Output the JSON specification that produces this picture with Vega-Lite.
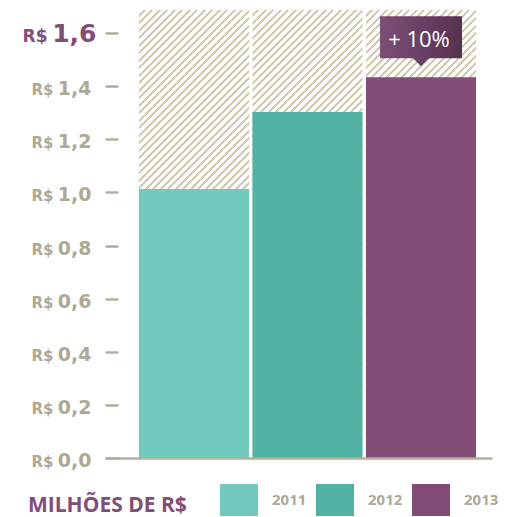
{
 "$schema": "https://vega.github.io/schema/vega-lite/v6.json",
 "width": 387,
 "height": 448,
 "autosize": {"type": "none"},
 "padding": {"left": 105, "top": 10, "right": 14, "bottom": 59},
 "background": "#ffffff",
 "data": {"values": [
  {"year": "2011", "value": 1.013},
  {"year": "2012", "value": 1.303},
  {"year": "2013", "value": 1.434, "note": "+ 10%"}
 ]},
 "encoding": {
  "x": {"field": "year", "type": "nominal",
   "scale": {"paddingInner": 0.03, "paddingOuter": 0.22, "align": 0.68},
   "axis": {"title": null, "labels": false, "ticks": false, "domain": true, "domainColor": "#b5b09d", "domainWidth": 2.5, "grid": false}}
 },
 "layer": [
  {
   "mark": {"type": "rect", "strokeWidth": 0, "fill": {"gradient": "linear", "x1": 0, "y1": 0, "x2": 0.3101, "y2": 1.2628, "stops": [
{"offset":0,"color":"#ffffff"},{"offset":0.0075,"color":"#ffffff"},{"offset":0.0075,"color":"#d2cbb1"},{"offset":0.0125,"color":"#d2cbb1"},
{"offset":0.0125,"color":"#ffffff"},{"offset":0.02,"color":"#ffffff"},{"offset":0.02,"color":"#d2cbb1"},{"offset":0.025,"color":"#d2cbb1"},
{"offset":0.025,"color":"#ffffff"},{"offset":0.0325,"color":"#ffffff"},{"offset":0.0325,"color":"#d2cbb1"},{"offset":0.0375,"color":"#d2cbb1"},
{"offset":0.0375,"color":"#ffffff"},{"offset":0.045,"color":"#ffffff"},{"offset":0.045,"color":"#d2cbb1"},{"offset":0.05,"color":"#d2cbb1"},
{"offset":0.05,"color":"#ffffff"},{"offset":0.0575,"color":"#ffffff"},{"offset":0.0575,"color":"#d2cbb1"},{"offset":0.0625,"color":"#d2cbb1"},
{"offset":0.0625,"color":"#ffffff"},{"offset":0.07,"color":"#ffffff"},{"offset":0.07,"color":"#d2cbb1"},{"offset":0.075,"color":"#d2cbb1"},
{"offset":0.075,"color":"#ffffff"},{"offset":0.0825,"color":"#ffffff"},{"offset":0.0825,"color":"#d2cbb1"},{"offset":0.0875,"color":"#d2cbb1"},
{"offset":0.0875,"color":"#ffffff"},{"offset":0.095,"color":"#ffffff"},{"offset":0.095,"color":"#d2cbb1"},{"offset":0.1,"color":"#d2cbb1"},
{"offset":0.1,"color":"#ffffff"},{"offset":0.1075,"color":"#ffffff"},{"offset":0.1075,"color":"#d2cbb1"},{"offset":0.1125,"color":"#d2cbb1"},
{"offset":0.1125,"color":"#ffffff"},{"offset":0.12,"color":"#ffffff"},{"offset":0.12,"color":"#d2cbb1"},{"offset":0.125,"color":"#d2cbb1"},
{"offset":0.125,"color":"#ffffff"},{"offset":0.1325,"color":"#ffffff"},{"offset":0.1325,"color":"#d2cbb1"},{"offset":0.1375,"color":"#d2cbb1"},
{"offset":0.1375,"color":"#ffffff"},{"offset":0.145,"color":"#ffffff"},{"offset":0.145,"color":"#d2cbb1"},{"offset":0.15,"color":"#d2cbb1"},
{"offset":0.15,"color":"#ffffff"},{"offset":0.1575,"color":"#ffffff"},{"offset":0.1575,"color":"#d2cbb1"},{"offset":0.1625,"color":"#d2cbb1"},
{"offset":0.1625,"color":"#ffffff"},{"offset":0.17,"color":"#ffffff"},{"offset":0.17,"color":"#d2cbb1"},{"offset":0.175,"color":"#d2cbb1"},
{"offset":0.175,"color":"#ffffff"},{"offset":0.1825,"color":"#ffffff"},{"offset":0.1825,"color":"#d2cbb1"},{"offset":0.1875,"color":"#d2cbb1"},
{"offset":0.1875,"color":"#ffffff"},{"offset":0.195,"color":"#ffffff"},{"offset":0.195,"color":"#d2cbb1"},{"offset":0.2,"color":"#d2cbb1"},
{"offset":0.2,"color":"#ffffff"},{"offset":0.2075,"color":"#ffffff"},{"offset":0.2075,"color":"#d2cbb1"},{"offset":0.2125,"color":"#d2cbb1"},
{"offset":0.2125,"color":"#ffffff"},{"offset":0.22,"color":"#ffffff"},{"offset":0.22,"color":"#d2cbb1"},{"offset":0.225,"color":"#d2cbb1"},
{"offset":0.225,"color":"#ffffff"},{"offset":0.2325,"color":"#ffffff"},{"offset":0.2325,"color":"#d2cbb1"},{"offset":0.2375,"color":"#d2cbb1"},
{"offset":0.2375,"color":"#ffffff"},{"offset":0.245,"color":"#ffffff"},{"offset":0.245,"color":"#d2cbb1"},{"offset":0.25,"color":"#d2cbb1"},
{"offset":0.25,"color":"#ffffff"},{"offset":0.2575,"color":"#ffffff"},{"offset":0.2575,"color":"#d2cbb1"},{"offset":0.2625,"color":"#d2cbb1"},
{"offset":0.2625,"color":"#ffffff"},{"offset":0.27,"color":"#ffffff"},{"offset":0.27,"color":"#d2cbb1"},{"offset":0.275,"color":"#d2cbb1"},
{"offset":0.275,"color":"#ffffff"},{"offset":0.2825,"color":"#ffffff"},{"offset":0.2825,"color":"#d2cbb1"},{"offset":0.2875,"color":"#d2cbb1"},
{"offset":0.2875,"color":"#ffffff"},{"offset":0.295,"color":"#ffffff"},{"offset":0.295,"color":"#d2cbb1"},{"offset":0.3,"color":"#d2cbb1"},
{"offset":0.3,"color":"#ffffff"},{"offset":0.3075,"color":"#ffffff"},{"offset":0.3075,"color":"#d2cbb1"},{"offset":0.3125,"color":"#d2cbb1"},
{"offset":0.3125,"color":"#ffffff"},{"offset":0.32,"color":"#ffffff"},{"offset":0.32,"color":"#d2cbb1"},{"offset":0.325,"color":"#d2cbb1"},
{"offset":0.325,"color":"#ffffff"},{"offset":0.3325,"color":"#ffffff"},{"offset":0.3325,"color":"#d2cbb1"},{"offset":0.3375,"color":"#d2cbb1"},
{"offset":0.3375,"color":"#ffffff"},{"offset":0.345,"color":"#ffffff"},{"offset":0.345,"color":"#d2cbb1"},{"offset":0.35,"color":"#d2cbb1"},
{"offset":0.35,"color":"#ffffff"},{"offset":0.3575,"color":"#ffffff"},{"offset":0.3575,"color":"#d2cbb1"},{"offset":0.3625,"color":"#d2cbb1"},
{"offset":0.3625,"color":"#ffffff"},{"offset":0.37,"color":"#ffffff"},{"offset":0.37,"color":"#d2cbb1"},{"offset":0.375,"color":"#d2cbb1"},
{"offset":0.375,"color":"#ffffff"},{"offset":0.3825,"color":"#ffffff"},{"offset":0.3825,"color":"#d2cbb1"},{"offset":0.3875,"color":"#d2cbb1"},
{"offset":0.3875,"color":"#ffffff"},{"offset":0.395,"color":"#ffffff"},{"offset":0.395,"color":"#d2cbb1"},{"offset":0.4,"color":"#d2cbb1"},
{"offset":0.4,"color":"#ffffff"},{"offset":0.4075,"color":"#ffffff"},{"offset":0.4075,"color":"#d2cbb1"},{"offset":0.4125,"color":"#d2cbb1"},
{"offset":0.4125,"color":"#ffffff"},{"offset":0.42,"color":"#ffffff"},{"offset":0.42,"color":"#d2cbb1"},{"offset":0.425,"color":"#d2cbb1"},
{"offset":0.425,"color":"#ffffff"},{"offset":0.4325,"color":"#ffffff"},{"offset":0.4325,"color":"#d2cbb1"},{"offset":0.4375,"color":"#d2cbb1"},
{"offset":0.4375,"color":"#ffffff"},{"offset":0.445,"color":"#ffffff"},{"offset":0.445,"color":"#d2cbb1"},{"offset":0.45,"color":"#d2cbb1"},
{"offset":0.45,"color":"#ffffff"},{"offset":0.4575,"color":"#ffffff"},{"offset":0.4575,"color":"#d2cbb1"},{"offset":0.4625,"color":"#d2cbb1"},
{"offset":0.4625,"color":"#ffffff"},{"offset":0.47,"color":"#ffffff"},{"offset":0.47,"color":"#d2cbb1"},{"offset":0.475,"color":"#d2cbb1"},
{"offset":0.475,"color":"#ffffff"},{"offset":0.4825,"color":"#ffffff"},{"offset":0.4825,"color":"#d2cbb1"},{"offset":0.4875,"color":"#d2cbb1"},
{"offset":0.4875,"color":"#ffffff"},{"offset":0.495,"color":"#ffffff"},{"offset":0.495,"color":"#d2cbb1"},{"offset":0.5,"color":"#d2cbb1"},
{"offset":0.5,"color":"#ffffff"},{"offset":0.5075,"color":"#ffffff"},{"offset":0.5075,"color":"#d2cbb1"},{"offset":0.5125,"color":"#d2cbb1"},
{"offset":0.5125,"color":"#ffffff"},{"offset":0.52,"color":"#ffffff"},{"offset":0.52,"color":"#d2cbb1"},{"offset":0.525,"color":"#d2cbb1"},
{"offset":0.525,"color":"#ffffff"},{"offset":0.5325,"color":"#ffffff"},{"offset":0.5325,"color":"#d2cbb1"},{"offset":0.5375,"color":"#d2cbb1"},
{"offset":0.5375,"color":"#ffffff"},{"offset":0.545,"color":"#ffffff"},{"offset":0.545,"color":"#d2cbb1"},{"offset":0.55,"color":"#d2cbb1"},
{"offset":0.55,"color":"#ffffff"},{"offset":0.5575,"color":"#ffffff"},{"offset":0.5575,"color":"#d2cbb1"},{"offset":0.5625,"color":"#d2cbb1"},
{"offset":0.5625,"color":"#ffffff"},{"offset":0.57,"color":"#ffffff"},{"offset":0.57,"color":"#d2cbb1"},{"offset":0.575,"color":"#d2cbb1"},
{"offset":0.575,"color":"#ffffff"},{"offset":0.5825,"color":"#ffffff"},{"offset":0.5825,"color":"#d2cbb1"},{"offset":0.5875,"color":"#d2cbb1"},
{"offset":0.5875,"color":"#ffffff"},{"offset":0.595,"color":"#ffffff"},{"offset":0.595,"color":"#d2cbb1"},{"offset":0.6,"color":"#d2cbb1"},
{"offset":0.6,"color":"#ffffff"},{"offset":0.6075,"color":"#ffffff"},{"offset":0.6075,"color":"#d2cbb1"},{"offset":0.6125,"color":"#d2cbb1"},
{"offset":0.6125,"color":"#ffffff"},{"offset":0.62,"color":"#ffffff"},{"offset":0.62,"color":"#d2cbb1"},{"offset":0.625,"color":"#d2cbb1"},
{"offset":0.625,"color":"#ffffff"},{"offset":0.6325,"color":"#ffffff"},{"offset":0.6325,"color":"#d2cbb1"},{"offset":0.6375,"color":"#d2cbb1"},
{"offset":0.6375,"color":"#ffffff"},{"offset":0.645,"color":"#ffffff"},{"offset":0.645,"color":"#d2cbb1"},{"offset":0.65,"color":"#d2cbb1"},
{"offset":0.65,"color":"#ffffff"},{"offset":0.6575,"color":"#ffffff"},{"offset":0.6575,"color":"#d2cbb1"},{"offset":0.6625,"color":"#d2cbb1"},
{"offset":0.6625,"color":"#ffffff"},{"offset":0.67,"color":"#ffffff"},{"offset":0.67,"color":"#d2cbb1"},{"offset":0.675,"color":"#d2cbb1"},
{"offset":0.675,"color":"#ffffff"},{"offset":0.6825,"color":"#ffffff"},{"offset":0.6825,"color":"#d2cbb1"},{"offset":0.6875,"color":"#d2cbb1"},
{"offset":0.6875,"color":"#ffffff"},{"offset":0.695,"color":"#ffffff"},{"offset":0.695,"color":"#d2cbb1"},{"offset":0.7,"color":"#d2cbb1"},
{"offset":0.7,"color":"#ffffff"},{"offset":0.7075,"color":"#ffffff"},{"offset":0.7075,"color":"#d2cbb1"},{"offset":0.7125,"color":"#d2cbb1"},
{"offset":0.7125,"color":"#ffffff"},{"offset":0.72,"color":"#ffffff"},{"offset":0.72,"color":"#d2cbb1"},{"offset":0.725,"color":"#d2cbb1"},
{"offset":0.725,"color":"#ffffff"},{"offset":0.7325,"color":"#ffffff"},{"offset":0.7325,"color":"#d2cbb1"},{"offset":0.7375,"color":"#d2cbb1"},
{"offset":0.7375,"color":"#ffffff"},{"offset":0.745,"color":"#ffffff"},{"offset":0.745,"color":"#d2cbb1"},{"offset":0.75,"color":"#d2cbb1"},
{"offset":0.75,"color":"#ffffff"},{"offset":0.7575,"color":"#ffffff"},{"offset":0.7575,"color":"#d2cbb1"},{"offset":0.7625,"color":"#d2cbb1"},
{"offset":0.7625,"color":"#ffffff"},{"offset":0.77,"color":"#ffffff"},{"offset":0.77,"color":"#d2cbb1"},{"offset":0.775,"color":"#d2cbb1"},
{"offset":0.775,"color":"#ffffff"},{"offset":0.7825,"color":"#ffffff"},{"offset":0.7825,"color":"#d2cbb1"},{"offset":0.7875,"color":"#d2cbb1"},
{"offset":0.7875,"color":"#ffffff"},{"offset":0.795,"color":"#ffffff"},{"offset":0.795,"color":"#d2cbb1"},{"offset":0.8,"color":"#d2cbb1"},
{"offset":0.8,"color":"#ffffff"},{"offset":0.8075,"color":"#ffffff"},{"offset":0.8075,"color":"#d2cbb1"},{"offset":0.8125,"color":"#d2cbb1"},
{"offset":0.8125,"color":"#ffffff"},{"offset":0.82,"color":"#ffffff"},{"offset":0.82,"color":"#d2cbb1"},{"offset":0.825,"color":"#d2cbb1"},
{"offset":0.825,"color":"#ffffff"},{"offset":0.8325,"color":"#ffffff"},{"offset":0.8325,"color":"#d2cbb1"},{"offset":0.8375,"color":"#d2cbb1"},
{"offset":0.8375,"color":"#ffffff"},{"offset":0.845,"color":"#ffffff"},{"offset":0.845,"color":"#d2cbb1"},{"offset":0.85,"color":"#d2cbb1"},
{"offset":0.85,"color":"#ffffff"},{"offset":0.8575,"color":"#ffffff"},{"offset":0.8575,"color":"#d2cbb1"},{"offset":0.8625,"color":"#d2cbb1"},
{"offset":0.8625,"color":"#ffffff"},{"offset":0.87,"color":"#ffffff"},{"offset":0.87,"color":"#d2cbb1"},{"offset":0.875,"color":"#d2cbb1"},
{"offset":0.875,"color":"#ffffff"},{"offset":0.8825,"color":"#ffffff"},{"offset":0.8825,"color":"#d2cbb1"},{"offset":0.8875,"color":"#d2cbb1"},
{"offset":0.8875,"color":"#ffffff"},{"offset":0.895,"color":"#ffffff"},{"offset":0.895,"color":"#d2cbb1"},{"offset":0.9,"color":"#d2cbb1"},
{"offset":0.9,"color":"#ffffff"},{"offset":0.9075,"color":"#ffffff"},{"offset":0.9075,"color":"#d2cbb1"},{"offset":0.9125,"color":"#d2cbb1"},
{"offset":0.9125,"color":"#ffffff"},{"offset":0.92,"color":"#ffffff"},{"offset":0.92,"color":"#d2cbb1"},{"offset":0.925,"color":"#d2cbb1"},
{"offset":0.925,"color":"#ffffff"},{"offset":0.9325,"color":"#ffffff"},{"offset":0.9325,"color":"#d2cbb1"},{"offset":0.9375,"color":"#d2cbb1"},
{"offset":0.9375,"color":"#ffffff"},{"offset":0.945,"color":"#ffffff"},{"offset":0.945,"color":"#d2cbb1"},{"offset":0.95,"color":"#d2cbb1"},
{"offset":0.95,"color":"#ffffff"},{"offset":0.9575,"color":"#ffffff"},{"offset":0.9575,"color":"#d2cbb1"},{"offset":0.9625,"color":"#d2cbb1"},
{"offset":0.9625,"color":"#ffffff"},{"offset":0.97,"color":"#ffffff"},{"offset":0.97,"color":"#d2cbb1"},{"offset":0.975,"color":"#d2cbb1"},
{"offset":0.975,"color":"#ffffff"},{"offset":0.9825,"color":"#ffffff"},{"offset":0.9825,"color":"#d2cbb1"},{"offset":0.9875,"color":"#d2cbb1"},
{"offset":0.9875,"color":"#ffffff"},{"offset":0.995,"color":"#ffffff"},{"offset":0.995,"color":"#d2cbb1"},{"offset":1,"color":"#d2cbb1"}
   ]}},
   "encoding": {
    "y": {"datum": 1.687, "type": "quantitative",
     "scale": {"domain": [0, 1.687], "nice": false, "zero": true},
     "axis": {
      "title": null, "orient": "left",
      "values": [0, 0.2, 0.4, 0.6, 0.8, 1, 1.2, 1.4, 1.6],
      "labelExpr": "replace(format(datum.value, '.1f'), '.', ',')",
      "domain": false, "grid": false, "ticks": true,
      "tickSize": 13, "tickWidth": 2.5, "tickColor": "#b5b09d", "offset": -13,
      "labelFont": "DejaVu Sans", "labelFontWeight": "bold",
      "labelFontSize": {"condition": {"test": "datum.value > 1.5", "value": 25}, "value": 19},
      "labelColor": {"condition": {"test": "datum.value > 1.5", "value": "#824d76"}, "value": "#aea995"},
      "labelPadding": {"condition": {"test": "datum.value > 1.5", "value": 9}, "value": 14},
      "labelBaseline": "alphabetic",
      "labelOffset": 8.5,
      "labelAlign": "right"
     }},
    "y2": {"datum": 0}
   }
  },
  {
   "mark": {"type": "bar", "strokeWidth": 0},
   "encoding": {
    "y": {"field": "value", "type": "quantitative",
     "axis": {
      "title": null, "orient": "left",
      "values": [0, 0.2, 0.4, 0.6, 0.8, 1, 1.2, 1.4, 1.6],
      "labelExpr": "'R$'",
      "domain": false, "grid": false, "ticks": false, "tickSize": 0,
      "labelFont": "DejaVu Sans", "labelFontWeight": "bold",
      "labelFontSize": {"condition": {"test": "datum.value > 1.5", "value": 17}, "value": 15},
      "labelColor": {"condition": {"test": "datum.value > 1.5", "value": "#824d76"}, "value": "#aea995"},
      "labelPadding": {"condition": {"test": "datum.value > 1.5", "value": 58}, "value": 52},
      "labelBaseline": "alphabetic",
      "labelOffset": 8.5,
      "labelAlign": "right"
     }},
    "color": {"field": "year", "type": "nominal",
     "scale": {"domain": ["2011", "2012", "2013"], "range": ["#74c9bf", "#52b3a5", "#814d76"]},
     "legend": {
      "title": "MILHÕES DE R$", "orient": "none", "legendX": -77, "legendY": 471,
      "direction": "horizontal", "padding": 0,
      "titleOrient": "left", "titleFont": "Open Sans", "titleFontWeight": "bold", "titleFontSize": 21,
      "titleColor": "#824d76", "titlePadding": 33, "titleBaseline": "bottom", "titleAnchor": "end",
      "labelFont": "Open Sans", "labelFontWeight": "bold", "labelFontSize": 15, "labelColor": "#aea995",
      "labelOffset": 14, "columnPadding": 9,
      "symbolType": "M-1,-0.842H1V0.842H-1Z", "symbolSize": 1444, "symbolStrokeWidth": 0, "symbolOpacity": 1
     }}
   }
  },
  {
   "transform": [{"filter": "isValid(datum.note)"}],
   "mark": {"type": "point", "shape": "M-1,-1.488H1V-0.463H0.195L0,-0.268L-0.195,-0.463H-1Z", "size": 6724,
    "filled": true, "opacity": 1, "strokeWidth": 0,
    "fill": {"gradient": "linear", "x1": 0, "y1": 0, "x2": 1, "y2": 0, "stops": [{"offset": 0, "color": "#7e4e77"}, {"offset": 1, "color": "#553250"}]}},
   "encoding": {"y": {"field": "value", "type": "quantitative", "axis": null}}
  },
  {
   "transform": [{"filter": "isValid(datum.note)"}],
   "mark": {"type": "text", "dy": -30, "dx": -2, "font": "Open Sans", "fontSize": 22, "color": "#ffffff", "baseline": "alphabetic", "align": "center"},
   "encoding": {"y": {"field": "value", "type": "quantitative", "axis": null}, "text": {"field": "note"}}
  }
 ],
 "resolve": {"axis": {"y": "independent"}},
 "config": {"view": {"stroke": null}}
}
